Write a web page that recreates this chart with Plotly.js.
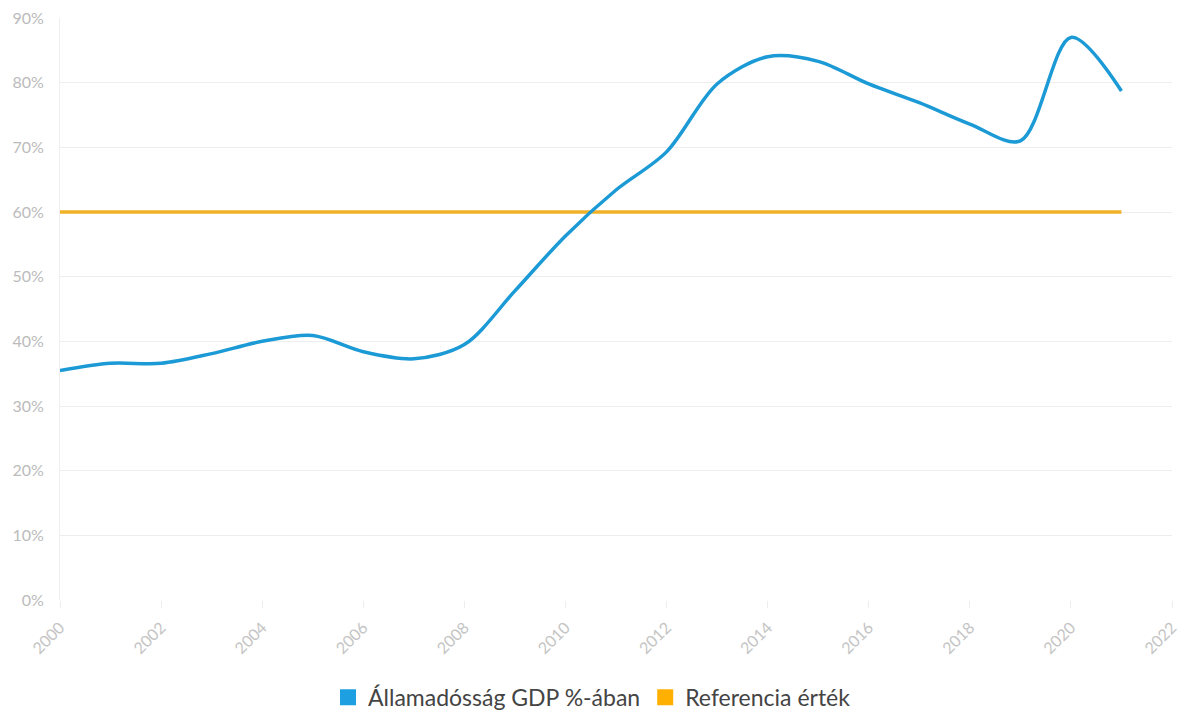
<!DOCTYPE html>
<html>
<head>
<meta charset="utf-8">
<script src="https://cdn.plot.ly/plotly-3.0.1.min.js"></script>
<style>html,body{margin:0;padding:0;background:#fff;}#chart{width:1184px;height:713px;}</style>
</head>
<body>
<div id="chart"></div>
<script>
const years = [2000,2001,2002,2003,2004,2005,2006,2007,2008,2009,2010,2011,2012,2013,2014,2015,2016,2017,2018,2019,2020,2021];
const debt = [35.5,36.6,36.6,38.1,40.0,40.9,38.4,37.3,39.5,47.8,56.3,63.4,69.3,79.8,84.0,83.3,79.8,76.9,73.6,71.0,87.0,78.7];
const reference = [60,60,60,60,60,60,60,60,60,60,60,60,60,60,60,60,60,60,60,60,60,60];
const seriesNames = ['Államadósság GDP %-ában','Referencia érték'];
const colors = ['#1b9ad6','#f2b227'];
const legendColors = ['#1e9fe2','#ffb000'];

const traces = [
  {x: years, y: reference, mode: 'lines', line: {color: colors[1], width: 3.5}, showlegend: false, hoverinfo: 'skip'},
  {x: years, y: debt, mode: 'lines', line: {color: colors[0], width: 3.5, shape: 'spline', smoothing: 0.9}, showlegend: false},
  {x: [null], y: [null], mode: 'markers', name: seriesNames[0], marker: {symbol: 'square', size: 18, color: legendColors[0]}},
  {x: [null], y: [null], mode: 'markers', name: seriesNames[1], marker: {symbol: 'square', size: 18, color: legendColors[1]}}
];

const layout = {
  width: 1184, height: 713,
  margin: {l: 60, r: 12, t: 18, b: 113, autoexpand: false},
  paper_bgcolor: '#fff', plot_bgcolor: '#fff',
  font: {family: 'Lato, "Open Sans", sans-serif', color: '#bbbbbb', size: 14},
  xaxis: {
    range: [2000, 2022], dtick: 2, tick0: 2000, tickangle: -45,
    showgrid: false, zeroline: false, showline: false, automargin: false,
    ticks: 'outside', ticklen: 7, tickcolor: '#eeeeee', ticklabelstandoff: 4,
    tickfont: {size: 16, color: '#c4c4c4'}
  },
  yaxis: {
    range: [0, 90], dtick: 10, ticksuffix: '%', automargin: false,
    showgrid: true, gridcolor: '#eeeeee', gridwidth: 1,
    zeroline: false, showline: true, linecolor: '#eeeeee', linewidth: 1,
    ticks: '', ticklen: 0, ticklabelstandoff: 12,
    tickfont: {size: 16, color: '#bbbbbb'}
  },
  legend: {
    orientation: 'h', x: 0.5, xref: 'container', xanchor: 'center',
    y: 0.022, yref: 'container', yanchor: 'middle',
    font: {size: 23, color: '#444444', family: 'Lato, "Open Sans", sans-serif'},
    itemwidth: 30, tracegroupgap: 0
  },
  showlegend: true
};

Plotly.newPlot('chart', traces, layout, {displayModeBar: false, staticPlot: true});
</script>
</body>
</html>
